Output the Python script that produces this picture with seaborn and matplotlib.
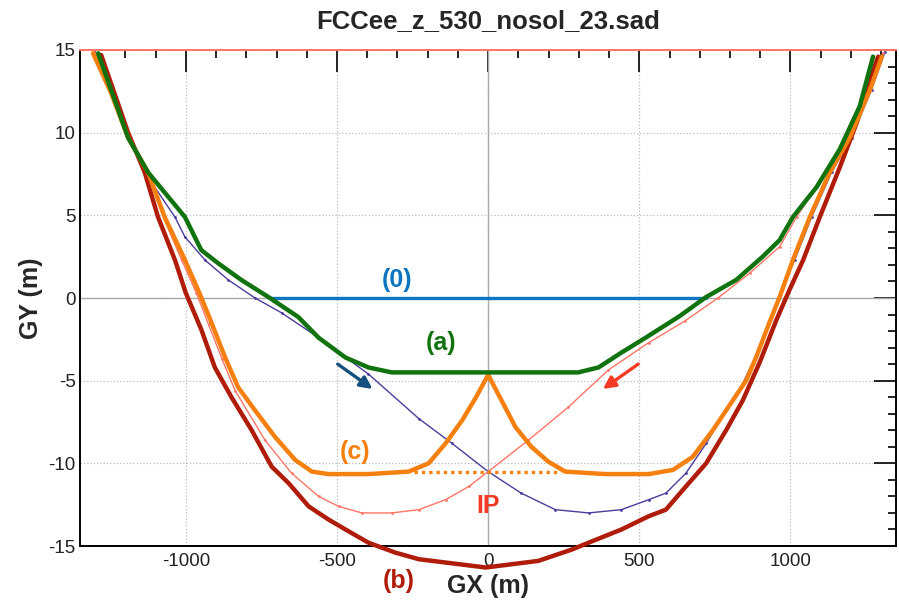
import numpy as np
import pandas as pd
import matplotlib
matplotlib.use("Agg")
import matplotlib.pyplot as plt
from matplotlib.ticker import MultipleLocator
import seaborn as sns

# --- datos (GX, GY en m) ---
# (a) verde
a_x = [-1290, -1191, -1125, -1003, -949, -893, -817, -727, -628, -561, -472, -396, -319, 0, 298, 365, 441, 521, 633, 721, 821, 908, 964, 1008, 1086, 1163, 1229, 1273]
a_y = [14.8, 9.7, 7.6, 4.9, 2.9, 2.1, 1.1, 0.06, -1.15, -2.4, -3.6, -4.2, -4.5, -4.5, -4.5, -4.2, -3.3, -2.4, -1.1, 0.06, 1.1, 2.5, 3.5, 4.9, 6.7, 9.0, 11.6, 14.6]

# (b) rojo oscuro
b_x = [-1280, -1191, -1136, -1092, -1036, -1000, -949, -904, -849, -782, -716, -660, -594, -528, -472, -396, -307, -229, -8, 166, 279, 332, 441, 531, 588, 654, 721, 787, 842, 898, 954, 997, 1042, 1097, 1163, 1219, 1263, 1290]
b_y = [14.7, 10.0, 7.6, 4.9, 2.3, 0.3, -1.9, -4.2, -6.0, -8.0, -10.2, -11.2, -12.6, -13.4, -14.0, -14.8, -15.4, -15.8, -16.3, -15.9, -15.2, -14.8, -14.0, -13.2, -12.8, -11.4, -10.0, -8.0, -6.2, -3.9, -1.3, 0.5, 2.3, 4.9, 7.9, 10.6, 13.2, 14.6]

# (c) naranja
c_x = [-1307, -1247, -1191, -1125, -1070, -1003, -955, -915, -870, -827, -771, -705, -638, -583, -528, -396, -263, -197, -141, -86, -40, 0, 33, 90, 143, 199, 255, 388, 531, 611, 677, 743, 809, 853, 886, 930, 964, 1008, 1064, 1130, 1196, 1263, 1302]
c_y = [14.8, 12.4, 9.7, 7.6, 4.9, 2.3, 0.3, -1.5, -3.6, -5.4, -6.8, -8.4, -9.8, -10.5, -10.65, -10.65, -10.5, -10.0, -8.8, -7.4, -6.0, -4.65, -5.8, -7.8, -9.0, -9.9, -10.5, -10.65, -10.65, -10.4, -9.6, -8.0, -6.2, -5.0, -3.6, -1.5, 0.06, 2.3, 4.9, 7.6, 9.7, 12.6, 14.6]

# orbita fina purpura (entrada)
p_x = [-1301, -1191, -1125, -1036, -1003, -937, -860, -771, -683, -561, -396, -229, -119, 0, 109, 222, 332, 441, 531, 588, 654, 721, 787, 831, 875, 930, 970, 1014, 1070, 1136, 1202, 1268, 1313]
p_y = [14.8, 9.8, 7.3, 4.9, 3.7, 2.3, 1.1, 0.0, -0.9, -2.4, -4.6, -7.3, -8.8, -10.5, -11.8, -12.8, -13.0, -12.8, -12.2, -11.8, -10.6, -8.8, -6.8, -5.6, -3.9, -1.5, 0.5, 2.3, 4.9, 7.6, 9.7, 12.6, 14.9]

# orbita fina salmon (salida)
s_x = [-1304, -1247, -1191, -1125, -1070, -1014, -965, -925, -880, -837, -738, -650, -561, -495, -418, -319, -229, -141, -64, 0, 133, 265, 398, 531, 650, 760, 865, 964, 1020, 1119, 1185, 1252, 1307]
s_y = [15.0, 12.2, 9.8, 7.4, 4.7, 2.3, 0.3, -1.6, -3.7, -5.6, -8.6, -10.6, -12.0, -12.6, -13.0, -13.0, -12.8, -12.2, -11.4, -10.5, -8.6, -6.6, -4.35, -2.7, -1.4, 0.0, 1.5, 3.1, 4.9, 7.6, 9.6, 12.6, 14.8]

# (0) orbita de diseno y linea del IP
zero_x = [-720, 720]
zero_y = [0, 0]
ip_line_x = [-245, 240]
ip_line_y = [-10.5, -10.5]

C_A = "#11730f"
C_B = "#b01c0a"
C_C = "#f5800f"
C_0 = "#0d74c0"
C_P = "#4a3c9c"
C_S = "#ff7566"
C_IP = "#f23a25"

sns.set_style("white")
plt.rcParams['font.family'] = ['Liberation Sans', 'DejaVu Sans']
plt.rcParams['axes.unicode_minus'] = False

fig = plt.figure(figsize=(8.99, 6.06), dpi=100)
ax = fig.add_axes([0.089, 0.099, 0.908, 0.8185])

# lineas de referencia
ax.axvline(0, color="#aaaaaa", lw=1, zorder=1)
ax.axhline(0, color="#aaaaaa", lw=1, zorder=1)

sns.lineplot(x=p_x, y=p_y, sort=False, color=C_P, lw=1.0, marker="o", markersize=1.2, mec=C_P, ax=ax, zorder=3)
sns.lineplot(x=s_x, y=s_y, sort=False, color=C_S, lw=1.0, marker="o", markersize=1.2, mec=C_S, ax=ax, zorder=3)
sns.lineplot(x=zero_x, y=zero_y, sort=False, color=C_0, lw=2.4, ax=ax, zorder=4)
sns.lineplot(x=ip_line_x, y=ip_line_y, sort=False, color=C_C, lw=2.4, ls=(0, (1, 1.2)), ax=ax, zorder=4)
sns.lineplot(x=b_x, y=b_y, sort=False, color=C_B, lw=3.2, ax=ax, zorder=5, clip_on=False)
sns.lineplot(x=c_x, y=c_y, sort=False, color=C_C, lw=3.2, ax=ax, zorder=6)
sns.lineplot(x=a_x, y=a_y, sort=False, color=C_A, lw=3.2, ax=ax, zorder=7)

# etiquetas de las curvas
lab = dict(fontsize=18, fontweight="bold", ha="center", va="center")
ax.text(-300, 1.1, "(0)", color=C_0, **lab)
ax.text(-157, -2.7, "(a)", color=C_A, **lab)
ax.text(-439, -9.3, "(c)", color=C_C, **lab)
ax.text(0, -12.6, "IP", color=C_IP, **lab)
ax.text(-295, -17.1, "(b)", color=C_B, **lab)

# flechas de direccion
ax.annotate("", xy=(-375, -5.6), xytext=(-505, -3.9),
            arrowprops=dict(arrowstyle="-|>", color="#15507e", lw=2.4, mutation_scale=18))
ax.annotate("", xy=(372, -5.6), xytext=(504, -3.9),
            arrowprops=dict(arrowstyle="-|>", color=C_IP, lw=2.4, mutation_scale=18))

ax.set_xlim(-1350, 1350)
ax.set_ylim(-15, 15)
ax.xaxis.set_major_locator(MultipleLocator(500))
ax.xaxis.set_minor_locator(MultipleLocator(100))
ax.yaxis.set_major_locator(MultipleLocator(5))
ax.yaxis.set_minor_locator(MultipleLocator(1))
ax.tick_params(which="both", direction="in", top=True, right=True, color="black", width=1.2)
ax.tick_params(which="major", length=16, labelsize=13.5, labelcolor="#222222")
ax.tick_params(axis="x", which="major", pad=5)
ax.tick_params(axis="y", which="major", pad=3)
ax.tick_params(which="minor", length=6)
ax.grid(True, which="major", ls=":", color="#bbbbbb", lw=0.9)
ax.set_axisbelow(True)

for side in ["left", "right", "bottom"]:
    ax.spines[side].set_color("black")
    ax.spines[side].set_linewidth(1.4)
ax.spines["top"].set_color(C_S)
ax.spines["top"].set_linewidth(1.4)

ax.set_xlabel("GX (m)", fontsize=18, fontweight="bold", labelpad=3)
ax.set_ylabel("GY (m)", fontsize=18, fontweight="bold", labelpad=4)
ax.set_title("FCCee_z_530_nosol_23.sad", fontsize=18.5, fontweight="bold", pad=16)

fig.savefig("out.png", dpi=100)
